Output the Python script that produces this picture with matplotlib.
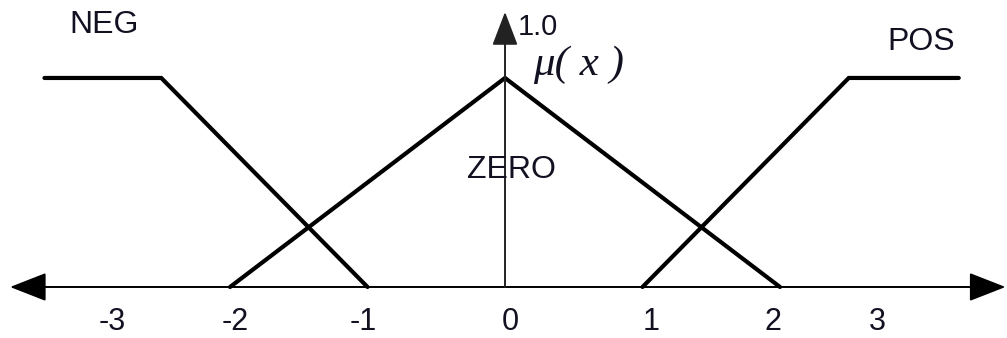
import matplotlib.pyplot as plt

# membership functions (x in units, mu in 0..1)
neg_x = [-3.35, -2.5, -1.0]
neg_y = [1.0, 1.0, 0.0]
zero_x = [-2.0, 0.0, 2.0]
zero_y = [0.0, 1.0, 0.0]
pos_x = [1.0, 2.5, 3.3]
pos_y = [0.0, 1.0, 1.0]

# hand-placed tick labels of the original drawing
tick_pos = [-2.86, -1.96, -1.03, 0.04, 1.06, 1.95, 2.71]
tick_txt = ['-3', '-2', '-1', '0', '1', '2', '3']

plt.rcParams['font.family'] = ['Liberation Sans', 'DejaVu Sans']

fig = plt.figure(figsize=(10.07, 3.38), dpi=100)
ax = fig.add_axes([0, 0, 1, 1])
ax.set_xlim(-3.673, 3.651)
ax.set_ylim(-0.244, 1.373)
ax.axis('off')

# axes with arrows
ax.annotate('', xy=(3.64, 0), xytext=(-3.6, 0),
            arrowprops=dict(arrowstyle='<|-|>,head_length=23,head_width=9',
                            mutation_scale=1, lw=1.4, color='black',
                            shrinkA=0, shrinkB=0))
ax.annotate('', xy=(0, 1.316), xytext=(0, 0),
            arrowprops=dict(arrowstyle='-|>,head_length=21,head_width=8',
                            mutation_scale=1, lw=1.4, color='#222222',
                            shrinkA=0, shrinkB=0))

for xs, ys in [(neg_x, neg_y), (zero_x, zero_y), (pos_x, pos_y)]:
    ax.plot(xs, ys, color='black', lw=3.0, solid_capstyle='round',
            solid_joinstyle='miter')

for p, t in zip(tick_pos, tick_txt):
    ax.text(p, -0.167, t, fontsize=22, ha='center', va='center', color='#111122')

ax.text(-2.916, 1.254, 'NEG', fontsize=23, ha='center', va='center', color='#111122')
ax.text(3.025, 1.172, 'POS', fontsize=23, ha='center', va='center', color='#111122')
ax.text(0.05, 0.56, 'ZERO', fontsize=23, ha='center', va='center', color='#111122')
ax.text(0.095, 1.244, '1.0', fontsize=21, ha='left', va='center', color='#111122')
ax.text(0.204, 1.062, 'μ( x )', fontsize=31, ha='left', va='center',
        family='Liberation Serif', style='italic', color='#111122')

fig.savefig('out.png', dpi=100)
